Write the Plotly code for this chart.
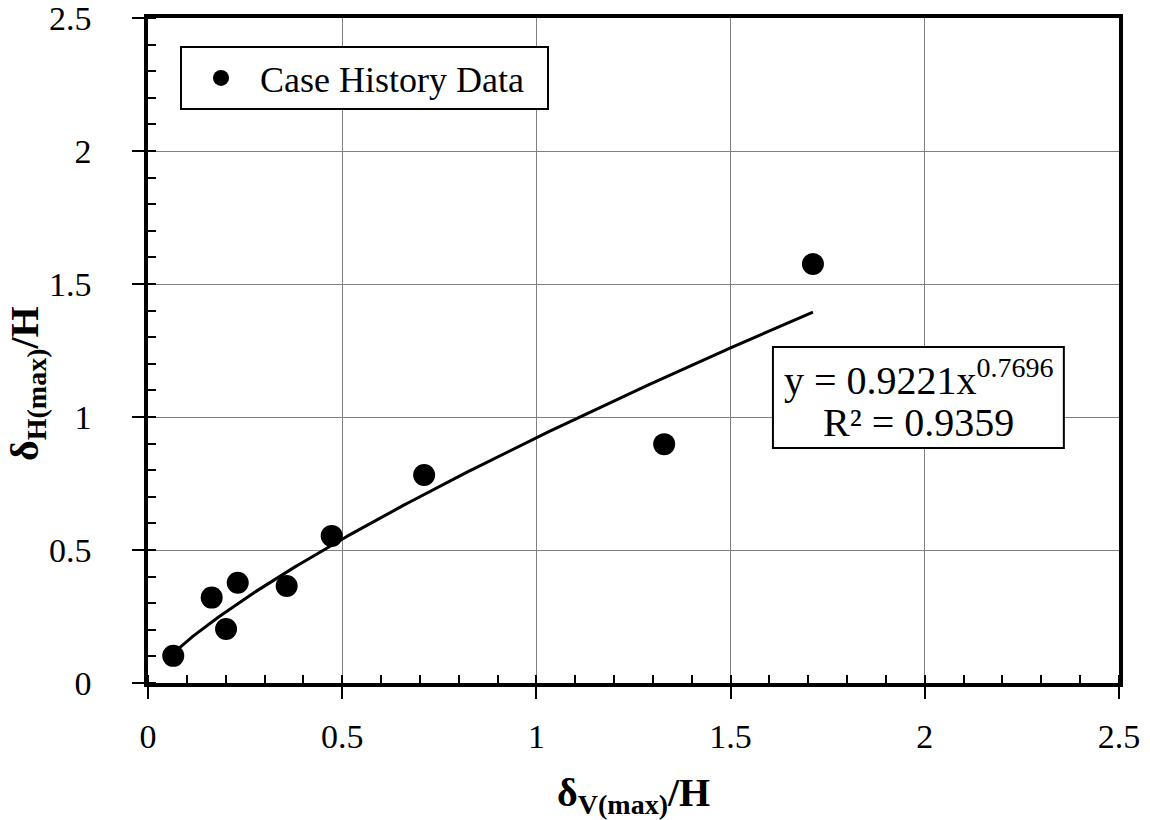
import numpy as np
import plotly.graph_objects as go

# Case history data
dv_over_h = [0.065, 0.164, 0.201, 0.231, 0.357, 0.473, 0.711, 1.329, 1.712]
dh_over_h = [0.102, 0.321, 0.203, 0.377, 0.365, 0.553, 0.782, 0.898, 1.575]

# Power trend line stated on the chart
TREND_COEF = 0.9221
TREND_EXP = 0.7696
R2 = 0.9359

x_ticks = [0, 0.5, 1, 1.5, 2, 2.5]
y_ticks = [0, 0.5, 1, 1.5, 2, 2.5]

FONT = "Liberation Serif, Times New Roman, serif"

trend_x = np.linspace(min(dv_over_h), max(dv_over_h), 200)
trend_y = TREND_COEF * trend_x ** TREND_EXP

fig = go.Figure()
fig.add_trace(go.Scatter(
    x=trend_x, y=trend_y, mode="lines",
    line=dict(color="black", width=3),
    showlegend=False, hoverinfo="skip",
))
fig.add_trace(go.Scatter(
    x=dv_over_h, y=dh_over_h, mode="markers",
    marker=dict(color="black", size=22, line=dict(width=0)),
    name="Case History Data\u00a0\u00a0",
))

axis_common = dict(
    showline=True, linecolor="black", linewidth=3.5, mirror=True,
    showgrid=True, gridcolor="#808080", gridwidth=1.3,
    zeroline=False, automargin=False,
    ticks="outside", ticklen=12, tickwidth=2, tickcolor="black",
    tickfont=dict(family=FONT, size=34, color="black"),
    ticklabeloverflow="allow",
    minor=dict(ticks="inside", dtick=0.1, ticklen=8, tickwidth=2,
               tickcolor="black", showgrid=False),
)

fig.update_xaxes(range=[0, 2.5], tickvals=x_ticks,
                 ticktext=[f"{v:g}" for v in x_ticks],
                 ticklabelstandoff=8, **axis_common)
fig.update_yaxes(range=[0, 2.5], tickvals=y_ticks,
                 ticktext=[f"{v:g}" for v in y_ticks],
                 ticklabelstandoff=34, **axis_common)

# Equation box (frame + two text lines)
fig.add_shape(type="rect", xref="x", yref="y",
              x0=1.609, x1=2.358, y0=0.883, y1=1.263,
              line=dict(color="black", width=2), fillcolor="white", layer="above")
fig.add_annotation(
    x=1.984, y=1.150, xref="x", yref="y",
    text=f"y = {TREND_COEF}x<sup>{TREND_EXP}</sup>",
    showarrow=False, font=dict(family=FONT, size=40, color="black"),
    xanchor="center", yanchor="middle",
)
fig.add_annotation(
    x=1.984, y=0.981, xref="x", yref="y",
    text=f"R² = {R2}",
    showarrow=False, font=dict(family=FONT, size=40, color="black"),
    xanchor="center", yanchor="middle",
)

fig.add_annotation(
    x=0.5, y=-0.168, xref="paper", yref="paper",
    text="<b>δ<sub>V(max)</sub>/H</b>", showarrow=False,
    font=dict(family=FONT, size=40, color="black"),
    xanchor="center", yanchor="middle",
)
fig.add_annotation(
    x=-0.1246, y=0.4496, xref="paper", yref="paper",
    text="<b>δ<sub>H(max)</sub>/H</b>", showarrow=False, textangle=-90,
    font=dict(family=FONT, size=40, color="black"),
    xanchor="center", yanchor="middle",
)

fig.update_layout(
    width=1150, height=820,
    margin=dict(l=148, r=31, t=18, b=137, autoexpand=False),
    paper_bgcolor="white", plot_bgcolor="white",
    font=dict(family=FONT, color="black"),
    legend=dict(
        x=(180 - 148) / 971, y=(683 - 46) / 665, xanchor="left", yanchor="top",
        bgcolor="white", bordercolor="black", borderwidth=2,
        itemwidth=68,
        font=dict(family=FONT, size=36, color="black"),
    ),
    showlegend=True,
)

fig.write_html("out.html")
